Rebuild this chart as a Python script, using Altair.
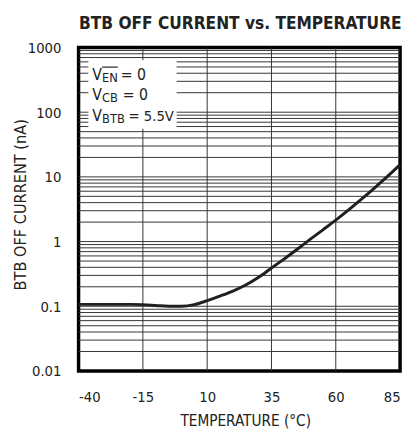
import altair as alt
import pandas as pd

# ---- data ----
temps = [-40, -30, -20, -15, -10, -5, 0, 5, 10, 15, 20, 25, 30, 35, 40, 45, 50, 55, 60, 65, 70, 75, 80, 85]
current = [0.107, 0.107, 0.107, 0.106, 0.103, 0.1, 0.1, 0.106, 0.122, 0.144, 0.172, 0.213,
           0.28, 0.39, 0.54, 0.76, 1.08, 1.52, 2.15, 3.09, 4.52, 6.72, 10.1, 15.5]
x_ticks = [-40, -15, 10, 35, 60, 85]
x_grid = [-15, 10, 35, 60]
y_ticks = [0.01, 0.1, 1, 10, 100, 1000]
y_grid = [round(m * 10.0 ** k, 6) for k in range(-2, 3) for m in range(1, 10)][1:]

FONT = "DejaVu Sans Condensed, sans-serif"

curve_df = pd.DataFrame({"t": temps, "i": current})
xs = alt.Scale(domain=[-40, 85], nice=False, zero=False)
ys = alt.Scale(type="log", domain=[0.01, 1000], nice=False)

x_axis = alt.Axis(values=x_ticks, grid=False, ticks=False, domain=False,
                  labelExpr="'' + datum.value",
                  labelFontSize=15, labelPadding=19, labelColor="#222", labelFont=FONT,
                  title="TEMPERATURE (°C)", titleFont=FONT, titleFontSize=15.5,
                  titleFontWeight="normal", titleColor="#222",
                  titleX=170, titleY=56, titleBaseline="alphabetic", titleAlign="center")
y_axis = alt.Axis(values=y_ticks, format="~g", grid=False, ticks=False, domain=False,
                  labelFontSize=15, labelPadding=18, labelColor="#222", labelFont=FONT,
                  title="BTB OFF CURRENT (nA)", titleFont=FONT, titleFontSize=16.5,
                  titleFontWeight="normal", titleColor="#222",
                  titleX=-54, titleY=160, titleAngle=270,
                  titleBaseline="alphabetic", titleAlign="center")

hgrid = alt.Chart(pd.DataFrame({"g": y_grid})).mark_rule(color="#333", strokeWidth=1).encode(
    y=alt.Y("g:Q", scale=ys, axis=y_axis)
)
vgrid = alt.Chart(pd.DataFrame({"g": x_grid})).mark_rule(color="#333", strokeWidth=1).encode(
    x=alt.X("g:Q", scale=xs, axis=x_axis)
)

curve = alt.Chart(curve_df).mark_line(color="#231f20", strokeWidth=3, interpolate="monotone").encode(
    x=alt.X("t:Q", scale=xs, axis=x_axis),
    y=alt.Y("i:Q", scale=ys, axis=y_axis),
)

one = pd.DataFrame({"a": [0]})
box = alt.Chart(one).mark_rect(color="white").encode(
    x=alt.value(10), x2=alt.value(100), y=alt.value(13), y2=alt.value(83)
)


def txt(s, x, y, size, weight="normal", align="left"):
    return alt.Chart(one).mark_text(text=s, font=FONT, fontSize=size, align=align,
                                    fontWeight=weight, baseline="alphabetic",
                                    color="#222").encode(x=alt.value(x), y=alt.value(y))


big = 16
small = 13
labels = [
    txt("V", 14, 33, big), txt("EN", 24, 35, small), txt("= 0", 43, 33, big),
    txt("V", 14, 54, big), txt("CB", 24, 56, small), txt("= 0", 45, 54, big),
    txt("V", 14, 75, big), txt("BTB", 24, 77, small), txt("= 5.5V", 51, 75, 15),
]
overline = alt.Chart(one).mark_rule(color="#222", strokeWidth=1.2).encode(
    x=alt.value(24), x2=alt.value(40), y=alt.value(20)
)
title = txt("BTB OFF CURRENT vs. TEMPERATURE", 165, -19, 17.5, weight="bold", align="center")

chart = alt.layer(hgrid, vgrid, box, curve, overline, title, *labels).properties(
    width=328, height=330,
    autosize=alt.AutoSizeParams(type="none"),
    padding={"left": 72, "top": 36, "right": 4, "bottom": 59},
).configure_view(stroke="black", strokeWidth=3.5)

chart.save("out.html", embed_options={"renderer": "svg", "actions": False})
